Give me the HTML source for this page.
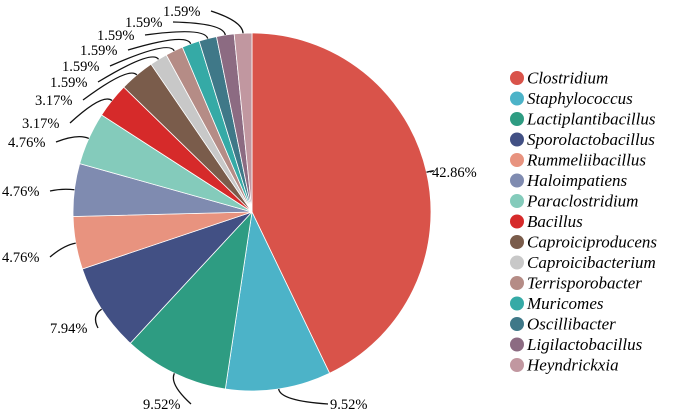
<!DOCTYPE html>
<html><head><meta charset="utf-8"><style>
html,body{margin:0;padding:0;background:#fff;}
svg{display:block;}
text{font-family:"Liberation Serif","Times New Roman",serif;}
</style></head><body>
<svg id="s" width="678" height="413" viewBox="0 0 678 413"></svg>
<script>
const s=document.getElementById('s');
const cx=252,cy=212,r=179;
const data=[
[42.86,'#d9534a','Clostridium',[432,177]],
[9.52,'#4cb3c8','Staphylococcus',[330,409]],
[9.52,'#2e9c82','Lactiplantibacillus',[143,409]],
[7.94,'#425084','Sporolactobacillus',[50,333]],
[4.76,'#e8937f','Rummeliibacillus',[2,262]],
[4.76,'#7f8bb0','Haloimpatiens',[2,196]],
[4.76,'#84cbbb','Paraclostridium',[8,147]],
[3.17,'#d62a2a','Bacillus',[22,128]],
[3.17,'#7a5c4b','Caproiciproducens',[35,105]],
[1.59,'#c8c8c8','Caproicibacterium',[50,87]],
[1.59,'#b58c86','Terrisporobacter',[62,71]],
[1.59,'#35aaa6','Muricomes',[80,55]],
[1.59,'#3f7888','Oscillibacter',[97,40]],
[1.59,'#8c6b82','Ligilactobacillus',[125,27]],
[1.59,'#c197a0','Heyndrickxia',[163,16]]];
let h='';let a=0;const tot=100;
const F='font-family="Liberation Serif, serif"';
const pt=(ang,rr)=>[cx+rr*Math.sin(ang),cy-rr*Math.cos(ang)];
data.forEach((d,i)=>{
 const a0=a/tot*2*Math.PI; a+=d[0]; const a1=a/tot*2*Math.PI;
 const p0=pt(a0,r),p1=pt(a1,r);
 h+=`<path d="M${cx},${cy}L${p0[0]},${p0[1]}A${r},${r} 0 ${a1-a0>Math.PI?1:0} 1 ${p1[0]},${p1[1]}Z" fill="${d[1]}" stroke="#fff" stroke-width="0.8"/>`;
 const am=(a0+a1)/2; const m=pt(am,r),m2=pt(am,r+12);
 const [tx,ty]=d[3]; const w=46;
 let ex,ey;
 if(i<=1){ex=tx-2;ey=ty-5;} else{ex=tx+w+2;ey=ty-5;}
 h+=`<path d="M${m[0]},${m[1]}Q${m2[0]},${m2[1]} ${ex},${ey}" fill="none" stroke="#111" stroke-width="1.3"/>`;
 h+=`<text x="${tx}" y="${ty}" font-size="14.5" ${F}>${d[0].toFixed(2)}%</text>`;
 const ly=78+i*20.5;
 h+=`<circle cx="517" cy="${ly}" r="7" fill="${d[1]}"/><text x="527" y="${ly+5.5}" font-size="17" font-style="italic" ${F}>${d[2]}</text>`;
});
s.innerHTML=h;
</script>
</body></html>
